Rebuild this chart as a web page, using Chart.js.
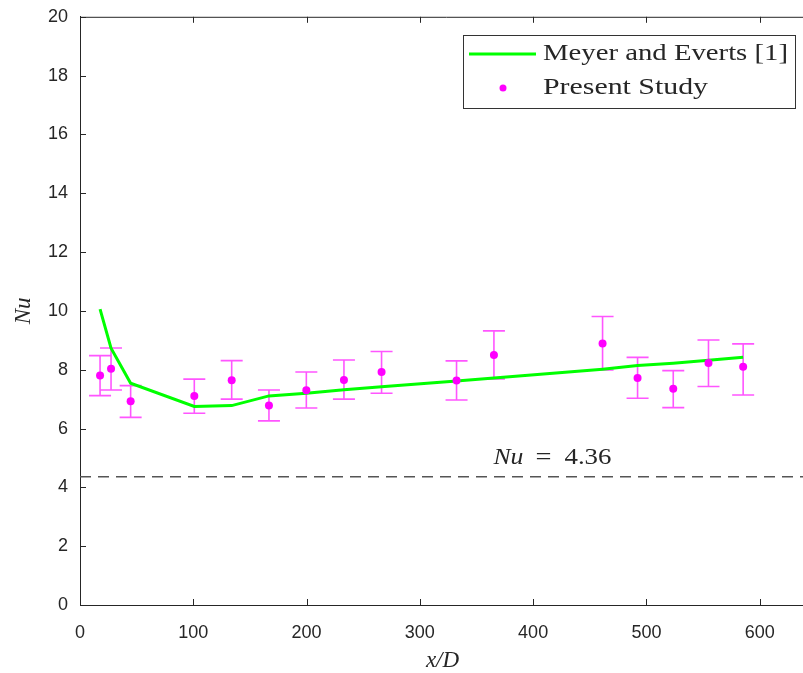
<!DOCTYPE html>
<html>
<head>
<meta charset="utf-8">
<script src="https://cdn.jsdelivr.net/npm/chart.js@4.4.1/dist/chart.umd.min.js"></script>
<style>
  html, body { margin: 0; padding: 0; overflow: hidden; background: #fff; }
  #wrap { position: relative; top: -6px; width: 812px; height: 685px; }
</style>
</head>
<body>
<div id="wrap"><canvas id="c"></canvas></div>
<script>
// values
const studyX = [17.7, 27.4, 44.7, 100.9, 133.9, 166.8, 199.8, 233, 266.2, 332.4, 365.4, 461.3, 492.2, 523.7, 554.8, 585.4];
const studyNu = [7.80, 8.03, 6.93, 7.11, 7.64, 6.78, 7.30, 7.65, 7.92, 7.63, 8.50, 8.89, 7.72, 7.35, 8.23, 8.10];
const studyHigh = [8.48, 8.74, 7.46, 7.68, 8.31, 7.31, 7.92, 8.33, 8.62, 8.30, 9.32, 9.81, 8.42, 7.97, 9.01, 8.88];
const studyLow = [7.12, 7.31, 6.38, 6.52, 7.00, 6.26, 6.70, 7.00, 7.20, 6.97, 7.69, 7.99, 7.03, 6.71, 7.43, 7.14];

const meyerX = [17.7, 27.4, 44.7, 100.9, 133.9, 166.8, 199.8, 233, 266.2, 332.4, 365.4, 461.3, 492.2, 523.7, 554.8, 585.4];
const meyerNu = [10.06, 8.73, 7.54, 6.75, 6.78, 7.11, 7.20, 7.32, 7.42, 7.62, 7.72, 8.02, 8.14, 8.22, 8.32, 8.42];

const laminarNu = 4.36;
const xTicks = [0, 100, 200, 300, 400, 500, 600];
const yTicks = [0, 2, 4, 6, 8, 10, 12, 14, 16, 18, 20];
const legendLabels = ['Meyer and Everts [1]', 'Present Study'];

const ink = '#262626';
const serif = '"Liberation Serif", "DejaVu Serif", serif';
const sans = '"Liberation Sans", Arial, sans-serif';

// draw text squeezed/stretched to the width it has in the picture
function wideText(ctx, text, x, y, width) {
  const w = ctx.measureText(text).width;
  ctx.save();
  ctx.translate(x, y);
  ctx.scale(width / w, 1);
  ctx.fillText(text, 0, 0);
  ctx.restore();
}

const errorBars = {
  id: 'errorBars',
  beforeDatasetsDraw(chart) {
    const { ctx, scales: { x, y } } = chart;
    ctx.save();
    ctx.strokeStyle = '#ff55ff';
    ctx.lineWidth = 1.6;
    studyX.forEach((v, i) => {
      const px = x.getPixelForValue(v);
      const top = y.getPixelForValue(studyHigh[i]);
      const bot = y.getPixelForValue(studyLow[i]);
      ctx.beginPath();
      ctx.moveTo(px, top); ctx.lineTo(px, bot);
      ctx.moveTo(px - 11, top); ctx.lineTo(px + 11, top);
      ctx.moveTo(px - 11, bot); ctx.lineTo(px + 11, bot);
      ctx.stroke();
    });
    ctx.restore();
  }
};

const frame = {
  id: 'frame',
  afterDraw(chart) {
    const { ctx, chartArea: a, scales: { x, y } } = chart;
    ctx.save();
    ctx.strokeStyle = ink;
    ctx.lineWidth = 1;
    ctx.beginPath();
    ctx.moveTo(a.left, a.top + 0.5); ctx.lineTo(a.right + 10, a.top + 0.5);
    xTicks.forEach((v) => {
      const px = Math.round(x.getPixelForValue(v)) + 0.5;
      ctx.moveTo(px, a.bottom); ctx.lineTo(px, a.bottom - 6);
      ctx.moveTo(px, a.top); ctx.lineTo(px, a.top + 6);
    });
    yTicks.forEach((v) => {
      const py = Math.round(y.getPixelForValue(v)) + 0.5;
      ctx.moveTo(a.left, py); ctx.lineTo(a.left + 6, py);
    });
    ctx.stroke();

    // Nu = 4.36 annotation
    const lx = x.getPixelForValue(365);
    const ly = y.getPixelForValue(5.0);
    ctx.fillStyle = ink;
    ctx.textBaseline = 'middle';
    ctx.font = 'italic 23px ' + serif;
    wideText(ctx, 'Nu', lx, ly, 30);
    ctx.font = '23px ' + serif;
    wideText(ctx, '=', lx + 42, ly, 16);
    wideText(ctx, '4.36', lx + 71, ly, 47);

    // legend box (canvas is shifted up 6px on the page)
    const bx = 463, by = 41, bw = 332, bh = 73;
    ctx.fillStyle = '#fff';
    ctx.fillRect(bx, by, bw, bh);
    ctx.strokeStyle = '#333';
    ctx.strokeRect(bx + 0.5, by + 0.5, bw, bh);
    ctx.strokeStyle = '#00ff00';
    ctx.lineWidth = 3;
    ctx.beginPath();
    ctx.moveTo(469, by + 19); ctx.lineTo(536, by + 19);
    ctx.stroke();
    ctx.fillStyle = '#ff00ff';
    ctx.beginPath();
    ctx.arc(503, by + 53, 3.5, 0, Math.PI * 2);
    ctx.fill();
    ctx.fillStyle = ink;
    ctx.font = '24px ' + serif;
    wideText(ctx, legendLabels[0], 543, by + 19, 245);
    wideText(ctx, legendLabels[1], 543, by + 53, 165);
    ctx.restore();
  }
};

new Chart(document.getElementById('c'), {
  type: 'scatter',
  data: {
    datasets: [
      {
        label: legendLabels[0],
        type: 'line',
        data: meyerX.map((v, i) => ({ x: v, y: meyerNu[i] })),
        borderColor: '#00ff00',
        borderWidth: 3,
        pointRadius: 0,
        tension: 0,
        order: 2
      },
      {
        label: legendLabels[1],
        data: studyX.map((v, i) => ({ x: v, y: studyNu[i] })),
        backgroundColor: '#ff00ff',
        borderWidth: 0,
        pointRadius: 4,
        order: 1
      },
      {
        label: 'laminar',
        type: 'line',
        data: [{ x: 0, y: laminarNu }, { x: 640, y: laminarNu }],
        borderColor: '#555555',
        borderWidth: 1.5,
        borderDash: [11, 7],
        pointRadius: 0,
        order: 3
      }
    ]
  },
  options: {
    responsive: true,
    maintainAspectRatio: false,
    animation: false,
    layout: { padding: { top: 12, right: 7, left: 0, bottom: 0 } },
    plugins: { legend: { display: false }, tooltip: { enabled: false } },
    scales: {
      x: {
        type: 'linear', min: 0, max: 640,
        afterBuildTicks: (s) => { s.ticks = xTicks.map((v) => ({ value: v })); },
        afterFit: (s) => { s.height = 74; },
        grid: { display: false, drawTicks: false },
        border: { display: true, color: ink, width: 1 },
        ticks: { color: ink, font: { family: sans, size: 18 }, padding: 17 },
        title: { display: true, text: 'x/D', color: ink, font: { family: serif, size: 23, style: 'italic' }, padding: { top: 6 } }
      },
      y: {
        type: 'linear', min: 0, max: 20,
        afterBuildTicks: (s) => { s.ticks = yTicks.map((v) => ({ value: v })); },
        afterFit: (s) => { s.width = 80; },
        grid: { display: false, drawTicks: false },
        border: { display: true, color: ink, width: 1 },
        ticks: { color: ink, font: { family: sans, size: 18 }, padding: 12 },
        title: { display: true, text: 'Nu', color: ink, font: { family: serif, size: 23, style: 'italic' }, padding: { top: 10 } }
      }
    }
  },
  plugins: [errorBars, frame]
});
</script>
</body>
</html>
